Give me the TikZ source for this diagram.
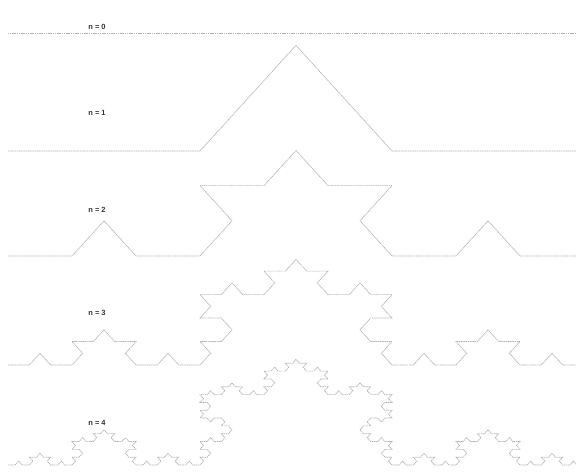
\documentclass[tikz,border=0pt]{standalone}
\usepackage{fontspec}
\setmainfont{Liberation Sans}
\tikzset{
  kochline/.style={draw=gray!60, line width=0.7pt, dash pattern=on 1.2pt off 0.6pt},
  lbl/.style={font=\fontsize{7.5}{8}\selectfont\bfseries, inner sep=0pt, text=black!80}
}
\newcommand\kochrow[2]{%
  \pgfmathtruncatemacro\kN{4^#1-1}%
  \pgfmathsetmacro\kL{576/3^#1}%
  \draw[kochline] (8,#2) \foreach \k [evaluate=\k as \ka using {60*((mod(\k,4)==1)-(mod(\k,4)==2)+(mod(floor(\k/4),4)==1)-(mod(floor(\k/4),4)==2)+(mod(floor(\k/16),4)==1)-(mod(floor(\k/16),4)==2)+(mod(floor(\k/64),4)==1)-(mod(floor(\k/64),4)==2))}] in {0,...,\kN}{ -- ++({\kL*cos(\ka)},{0.635*\kL*sin(\ka)}) };%
}
\begin{document}
\begin{tikzpicture}[x=1pt,y=1pt]
\useasboundingbox (0,0) rectangle (576,473);
\clip (0,0) rectangle (576,473);
\fill[white] (0,0) rectangle (576,473);
\kochrow{0}{439.5}
\kochrow{1}{322}
\kochrow{2}{217}
\kochrow{3}{108}
\kochrow{4}{8}
\node[lbl] (l0) at (97,446) {n = 0};
\node[lbl] (l1) at (97,360) {n = 1};
\node[lbl] (l2) at (97,263) {n = 2};
\node[lbl] (l3) at (97,160) {n = 3};
\node[lbl] (l4) at (97,50) {n = 4};
\end{tikzpicture}
\end{document}
